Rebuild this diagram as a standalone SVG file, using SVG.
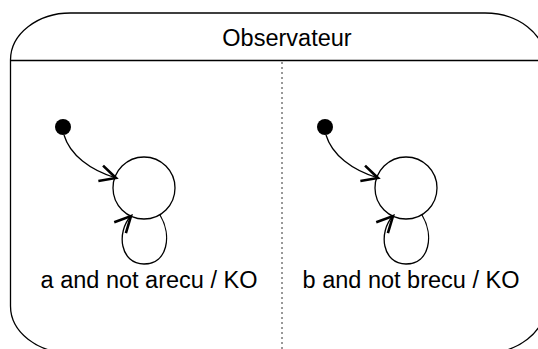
<svg xmlns="http://www.w3.org/2000/svg" width="538" height="349" viewBox="0 0 538 349">
<style>
.line{fill:none;stroke:#000;stroke-width:1.3}
.state{fill:#fff;stroke:#000;stroke-width:1.3}
.init{fill:#000}
.txt{font-family:"Liberation Sans",Arial,sans-serif;font-size:23.5px;fill:#000;text-anchor:middle}
</style>
<defs>
<marker id="arr" markerUnits="userSpaceOnUse" markerWidth="24" markerHeight="24" viewBox="-20 -12 24 24" refX="0" refY="0" orient="auto" overflow="visible">
<path d="M -16 -8 L 0 0 L -16 8" fill="none" stroke="#000" stroke-width="2.6" stroke-linejoin="miter"/>
</marker>
</defs>
<rect width="538" height="349" fill="#fff"/>
<g id="composite">
<path class="line" d="M 10.5 60 A 60 47 0 0 1 70.5 13 L 485 13 A 60 47 0 0 1 545 60 L 545 306 A 60 47 0 0 1 485 353 L 70.5 353 A 60 47 0 0 1 10.5 306 Z"/>
<line class="line" x1="10.5" y1="60.5" x2="545" y2="60.5"/>
<line x1="282" y1="62" x2="282" y2="349" stroke="#333" stroke-width="1" stroke-dasharray="2 3"/>
<text class="txt" x="287" y="46">Observateur</text>
</g>
<g id="init1"><circle class="init" cx="63" cy="127" r="8"/></g>
<g id="s1"><circle class="state" cx="144" cy="188" r="31"/></g>
<g id="init2"><circle class="init" cx="325" cy="127" r="8"/></g>
<g id="s2"><circle class="state" cx="406" cy="188" r="31"/></g>
<g id="connectors">
<path class="line" d="M 64 135 C 70 155, 90 170, 116 178" marker-end="url(#arr)"/>
<path class="line" d="M 160 215 C 172 235, 168 264, 144 264 C 120 264, 116 232, 131 216" marker-end="url(#arr)"/>
<path class="line" d="M 326 135 C 332 155, 352 170, 378 178" marker-end="url(#arr)"/>
<path class="line" d="M 422 215 C 434 235, 430 264, 406 264 C 382 264, 378 232, 393 216" marker-end="url(#arr)"/>
<text class="txt" x="149" y="288">a and not arecu / KO</text>
<text class="txt" x="411" y="288">b and not brecu / KO</text>
</g>
</svg>
